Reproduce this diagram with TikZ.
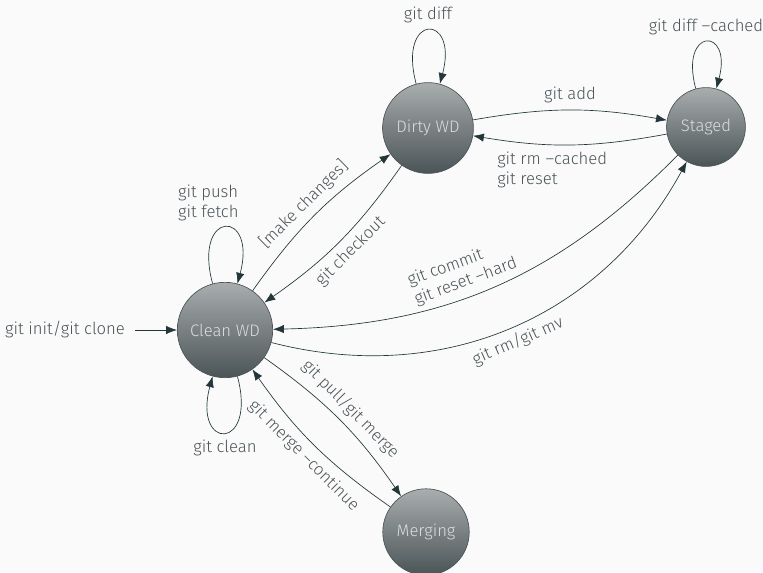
\documentclass[tikz,border=0pt]{standalone}
\usepackage{fontspec}
\setmainfont{Fira Sans}[UprightFont=* Light]
\usetikzlibrary{arrows.meta}
\definecolor{mDarkTeal}{HTML}{23373B}
\definecolor{mBg}{HTML}{FAFAFA}
\definecolor{mLabel}{HTML}{4A5357}
\definecolor{mTop}{HTML}{A9ADAE}
\definecolor{mBottom}{HTML}{4A5456}
\definecolor{mText}{HTML}{DADEDE}
\begin{document}
\begin{tikzpicture}
        [x=0.6pt, y=-0.6pt,
        state/.style={circle, inner sep=6pt, draw=mBottom, thin, top color=mTop, bottom color=mBottom, text=mText},
        lbl/.style={text=mLabel, inner sep=4pt},
        edge/.style={-{Latex[length=6.5pt,width=5pt]}, draw=mDarkTeal, thin},
        ]
        \fill[mBg] (0,0) rectangle (763,572);
        \useasboundingbox (0,0) rectangle (763,572);
        \node[state] (clean) at (225,330) {Clean WD};
        \node[state] (dirty) at (428,128) {Dirty WD};
        \node[state] (staged) at (706,127) {Staged};
        \node[state] (merging) at (426,532) {Merging};
        \node[lbl, inner sep=6pt] (init) at (65,330) {git init/git clone};

        \draw[edge] (init) -- (clean);
        \draw[edge] (clean) to[loop above] node[lbl, above, align=left, xshift=-10pt] {git push\\git fetch} ();
        \draw[edge] (clean) to[loop below] node[lbl, below] {git clean} ();
        \draw[edge] (clean) to[bend left=10] node[lbl, sloped, above] {[make changes]} (dirty);
        \draw[edge] (dirty) to[bend left=10] node[lbl, sloped, below] {git checkout} (clean);
        \draw[edge] (dirty) to[loop above] node[lbl, above] {git diff} ();
        \draw[edge] (dirty) to[bend left=10] node[lbl, above] {git add} (staged);
        \draw[edge] (staged) to[bend left=10] node[lbl, below, align=left, pos=0.6] {git rm --cached\\git reset} (dirty);
        \draw[edge] (staged) to[loop above] node[lbl, above] {git diff --cached} ();
        \draw[edge] (staged) to[bend left=22] node[lbl, sloped, above, align=left, pos=0.56] {git commit\\git reset --hard} (clean);
        \draw[edge] (clean) to[bend right=38] node[lbl, sloped, below] {git rm/git mv} (staged);
        \draw[edge] (clean) to[bend left=10] node[lbl, sloped, above] {git pull/git merge} (merging);
        \draw[edge] (merging) to[bend left=10] node[lbl, sloped, below] {git merge --continue} (clean);
\end{tikzpicture}
\end{document}
